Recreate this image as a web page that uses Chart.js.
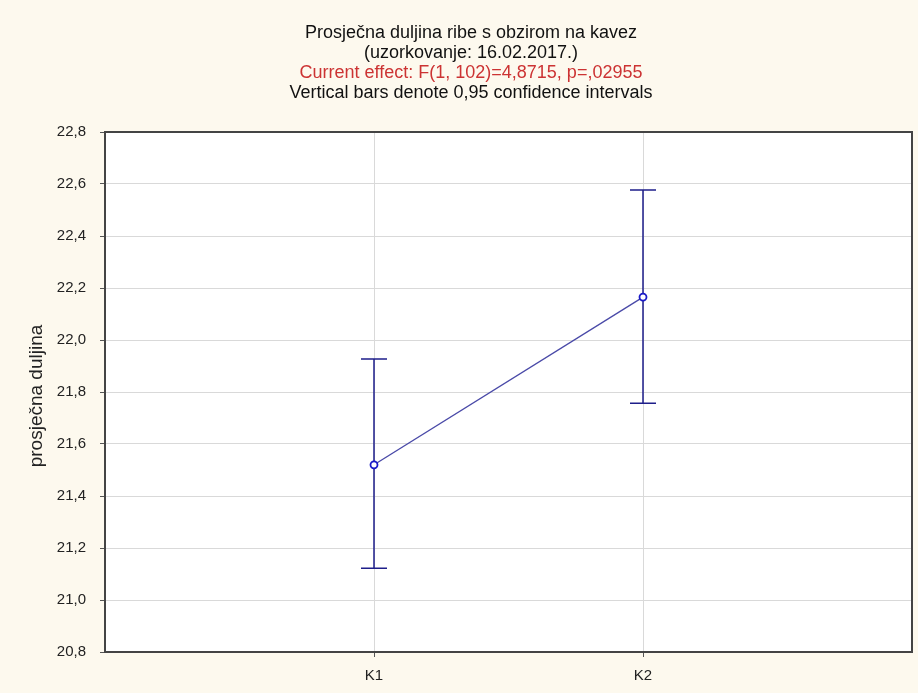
<!DOCTYPE html>
<html>
<head>
<meta charset="utf-8">
<script src="https://cdn.jsdelivr.net/npm/chart.js@4"></script>
<style>
  html, body { margin: 0; padding: 0; background: #fdf9ee; }
  #wrap { width: 918px; height: 693px; }
</style>
</head>
<body>
<div id="wrap"><canvas id="c" width="918" height="693"></canvas></div>
<script>
const categories = ['K1', 'K2'];
const means = [21.52, 22.165];
const ciLower = [21.122, 21.757];
const ciUpper = [21.927, 22.577];
const yMin = 20.8, yMax = 22.8, yStep = 0.2;
const titleLines = [
  { text: 'Prosječna duljina ribe s obzirom na kavez', color: '#111111' },
  { text: '(uzorkovanje: 16.02.2017.)', color: '#111111' },
  { text: 'Current effect: F(1, 102)=4,8715, p=,02955', color: '#cc3333' },
  { text: 'Vertical bars denote 0,95 confidence intervals', color: '#111111' }
];
const yAxisTitle = 'prosječna duljina';

const points = categories.map((c, i) => ({ x: i + 1, y: means[i] }));

const FONT = '"Liberation Sans", Arial, sans-serif';
const BAR_COLOR = '#1e1e8a';

const decorPlugin = {
  id: 'decor',
  beforeDraw(chart) {
    const { ctx, chartArea: a } = chart;
    ctx.save();
    ctx.fillStyle = '#fdf9ee';
    ctx.fillRect(0, 0, chart.width, chart.height);
    ctx.fillStyle = '#ffffff';
    ctx.fillRect(a.left, a.top, a.right - a.left, a.bottom - a.top);
    ctx.restore();
  },
  afterDatasetsDraw(chart) {
    const { ctx, scales, chartArea: a } = chart;
    const xs = scales.x, ys = scales.y;
    ctx.save();
    ctx.strokeStyle = '#444444';
    ctx.lineWidth = 2;
    ctx.strokeRect(a.left, a.top, a.right - a.left, a.bottom - a.top);
    ctx.strokeStyle = BAR_COLOR;
    ctx.lineWidth = 1.5;
    categories.forEach((c, i) => {
      const px = xs.getPixelForValue(i + 1);
      const top = ys.getPixelForValue(ciUpper[i]);
      const bot = ys.getPixelForValue(ciLower[i]);
      ctx.beginPath();
      ctx.moveTo(px, top); ctx.lineTo(px, bot);
      ctx.moveTo(px - 13, top); ctx.lineTo(px + 13, top);
      ctx.moveTo(px - 13, bot); ctx.lineTo(px + 13, bot);
      ctx.stroke();
    });
    categories.forEach((c, i) => {
      const px = xs.getPixelForValue(i + 1);
      const py = ys.getPixelForValue(means[i]);
      ctx.beginPath();
      ctx.arc(px, py, 3.5, 0, Math.PI * 2);
      ctx.fillStyle = '#ffffff';
      ctx.fill();
      ctx.lineWidth = 1.8;
      ctx.strokeStyle = '#1a1ac8';
      ctx.stroke();
    });
    ctx.restore();
  },
  afterDraw(chart) {
    const { ctx } = chart;
    ctx.save();
    ctx.textAlign = 'center';
    ctx.textBaseline = 'middle';
    ctx.font = '18px ' + FONT;
    const ys = [33, 53, 73, 93];
    titleLines.forEach((l, i) => {
      ctx.fillStyle = l.color;
      ctx.fillText(l.text, 471, ys[i]);
    });
    ctx.translate(37, 396);
    ctx.rotate(-Math.PI / 2);
    ctx.font = '19px ' + FONT;
    ctx.fillStyle = '#222222';
    ctx.fillText(yAxisTitle, 0, 0);
    ctx.restore();
  }
};

new Chart(document.getElementById('c'), {
  type: 'line',
  data: {
    datasets: [{
      data: points,
      borderColor: '#4a4aa8',
      borderWidth: 1.3,
      pointRadius: 0,
      fill: false,
      tension: 0
    }]
  },
  options: {
    responsive: false,
    animation: false,
    layout: { padding: { top: 132, right: 6, bottom: 0, left: 0 } },
    plugins: { legend: { display: false }, tooltip: { enabled: false }, title: { display: false } },
    scales: {
      x: {
        type: 'linear',
        min: 0, max: 3,
        afterFit(s) { s.height = 41; s.paddingLeft = 0; s.paddingRight = 0; },
        ticks: {
          stepSize: 1,
          autoSkip: false,
          maxRotation: 0,
          padding: 10,
          color: '#222222',
          font: { family: FONT, size: 15 },
          callback: v => (v >= 1 && v <= categories.length) ? categories[v - 1] : ''
        },
        grid: {
          color: '#d9d9d9', lineWidth: 1, tickLength: 5,
          tickColor: c => (c.tick && c.tick.value >= 1 && c.tick.value <= categories.length) ? '#555555' : 'rgba(0,0,0,0)'
        },
        border: { color: '#444444', width: 2 }
      },
      y: {
        type: 'linear',
        min: yMin, max: yMax,
        afterFit(s) { s.width = 105; },
        ticks: {
          stepSize: yStep,
          padding: 14,
          color: '#222222',
          font: { family: FONT, size: 15 },
          callback: v => v.toFixed(1).replace('.', ',')
        },
        grid: { color: '#d9d9d9', lineWidth: 1, tickLength: 5, tickColor: '#555555' },
        border: { color: '#444444', width: 2 }
      }
    }
  },
  plugins: [decorPlugin]
});
</script>
</body>
</html>
